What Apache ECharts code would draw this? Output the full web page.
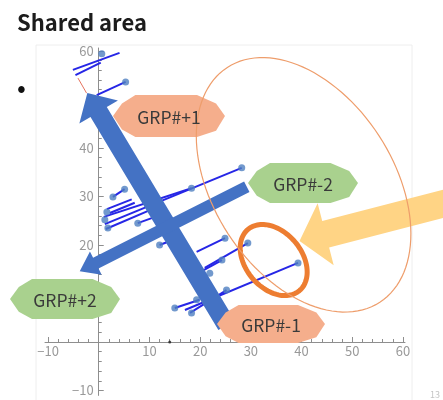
<!DOCTYPE html>
<html><head><meta charset="utf-8">
<script src="https://cdn.jsdelivr.net/npm/echarts@6/dist/echarts.min.js"></script>
<style>html,body{margin:0;padding:0;background:#fff;}#c{width:443px;height:400px;}</style>
</head><body><div id="c"></div>
<script>
// ---- data ----
const majorTicks = [-10, 0, 10, 20, 30, 40, 50, 60];
const minorTicks = [-8, -6, -4, -2, 2, 4, 6, 8, 12, 14, 16, 18, 22, 24, 26, 28, 32, 34, 36, 38, 42, 44, 46, 48, 52, 54, 56, 58];
const xLabelValues = [-10, 10, 20, 30, 40, 50, 60];
const yLabelValues = [-10, 10, 20, 30, 40, 60];
// blue segments: [x1, y1, x2, y2]
const segments = [
  [-5.1, 56.1, 4.1, 59.6],
  [-4.6, 55.0, 0.4, 57.6],
  [-0.4, 50.9, 5.3, 53.6],
  [2.8, 29.9, 5.1, 31.5],
  [1.2, 24.3, 28.2, 35.9],
  [1.0, 25.8, 18.3, 31.7],
  [1.4, 23.3, 10.1, 27.2],
  [2.2, 26.6, 7.1, 28.7],
  [1.6, 27.4, 6.5, 29.4],
  [7.7, 24.5, 12.5, 26.3],
  [12.0, 20.0, 16.0, 21.6],
  [19.3, 18.6, 24.9, 21.4],
  [20.9, 15.3, 29.4, 20.4],
  [17.0, 6.6, 39.3, 16.3],
  [15.0, 7.0, 19.9, 8.7],
  [18.0, 6.0, 25.2, 10.7],
  [18.9, 13.8, 24.3, 16.9]
];
const dots = [
  [0.6, 59.4], [5.3, 53.6], [2.8, 29.9], [5.1, 31.5], [1.6, 26.8], [1.2, 25.2], [1.8, 23.5],
  [7.7, 24.5], [18.3, 31.7], [28.2, 35.9], [12.0, 20.0], [24.9, 21.4], [29.4, 20.4],
  [24.3, 16.9], [21.9, 14.2], [39.3, 16.3], [15.0, 7.0], [18.3, 6.0], [25.2, 10.7], [19.3, 8.7]
];
const redSegment = [[-4.1, 54.4], [-2.4, 51.3]];
const axisMark = [[14, 0]];

// axis extents
const xMin = -10.6, xMax = 60.4, yMin = -11, yMax = 60.6;
const G = {left: 45, right: 38, top: 48, bottom: 4.6};
const W = 443, H = 400;
const gw = W - G.left - G.right, gh = H - G.top - G.bottom;
// place each axis on the other's zero via offset
const xOffset = -(gh * (0 - yMin) / (yMax - yMin));
const yOffset = -(gw * (0 - xMin) / (xMax - xMin));

const chart = echarts.init(document.getElementById('c'), null, {renderer: 'canvas'});
const gray = '#8e8e8e';
const fmt = v => (v < 0 ? '\u2212' + Math.abs(v) : String(v));

const series = segments.map(s => ({
  type: 'line', data: [[s[0], s[1]], [s[2], s[3]]], symbol: 'none',
  lineStyle: {color: '#2626e6', width: 2}, z: 3, silent: true
}));
series.push({type: 'scatter', data: dots, symbolSize: 7, itemStyle: {color: '#4f80c0'}, z: 4, silent: true});
series.push({type: 'line', data: redSegment, symbol: 'none', lineStyle: {color: '#e5735e', width: 1}, z: 3, silent: true});
series.push({type: 'scatter', data: axisMark, symbolSize: 3, itemStyle: {color: '#222'}, z: 4, silent: true});

const axisBase = (isX, major) => ({
  type: 'value', min: isX ? xMin : yMin, max: isX ? xMax : yMax,
  position: isX ? 'bottom' : 'left',
  offset: isX ? xOffset : yOffset,
  axisLine: {show: major, onZero: false, lineStyle: {color: gray, width: 1}},
  axisTick: {show: true, inside: true, length: major ? 5 : 3, customValues: major ? majorTicks : minorTicks, lineStyle: {color: gray}},
  axisLabel: major ? {customValues: isX ? xLabelValues : yLabelValues, formatter: fmt, color: '#999999', fontSize: 13,
    fontFamily: 'Noto Sans CJK JP', margin: isX ? 3 : 5} : {show: false},
  splitLine: {show: false}
});

chart.setOption({
  animation: false,
  title: {text: 'Shared area', left: 17, top: 12, padding: 0,
    textStyle: {fontSize: 22, fontWeight: 'bold', color: '#1c1c1c', fontFamily: 'Noto Sans CJK JP'}},
  grid: {left: G.left, right: G.right, top: G.top, bottom: G.bottom, outerBoundsMode: 'none'},
  xAxis: [axisBase(true, true), axisBase(true, false)],
  yAxis: [axisBase(false, true), axisBase(false, false)],
  series: series
});

// ---- annotations (anchored in data coordinates, sizes in pixels) ----
const arrows = [
  {tail: [25.2, 3.5], tip: [-2.25, 51.3], shaft: 9.5, head: 22.5, headLen: 22, color: '#4472c4', z: 10},
  {tail: [29.2, 32.0], tip: [-3.75, 14.6], shaft: 6, head: 13, headLen: 18, color: '#4472c4', z: 10},
  {tail: [71, 29.3], tip: [39.6, 20.8], shaft: 13.7, head: 32, headLen: 27, color: '#ffd485', z: 12}
];
const ellipses = [
  {c: [40.4, 32.4], rx: 140, ry: 90, angle: 57, color: '#ee9d6b', width: 1.2, z: 21},
  {c: [34.5, 16.9], rx: 40, ry: 28, angle: 50, color: '#ed7d31', width: 5, z: 13}
];
const tags = [
  {text: 'GRP#+1', cx: 169, cy: 116, w: 112, h: 42, fill: '#f5ae8c'},
  {text: 'GRP#-2', cx: 303, cy: 183, w: 110, h: 40, fill: '#a9d18e'},
  {text: 'GRP#+2', cx: 65, cy: 299, w: 110, h: 40, fill: '#a9d18e'},
  {text: 'GRP#-1', cx: 271, cy: 324, w: 108, h: 38, fill: '#f5ae8c'}
];

const px = p => chart.convertToPixel({gridIndex: 0}, p);
const graphics = [];
graphics.push({type: 'rect', shape: {x: 36, y: 45, width: 376, height: 360}, style: {fill: 'none', stroke: '#eeeeee', lineWidth: 1}, z: 0, silent: true});

arrows.forEach(a => {
  const P0 = px(a.tail), P1 = px(a.tip);
  const dx = P1[0] - P0[0], dy = P1[1] - P0[1], L = Math.hypot(dx, dy);
  const u = [dx / L, dy / L], n = [-u[1], u[0]];
  const B = [P1[0] - u[0] * a.headLen, P1[1] - u[1] * a.headLen];
  const pt = (P, k) => [P[0] + n[0] * k, P[1] + n[1] * k];
  graphics.push({type: 'polygon', shape: {points: [pt(P0, a.shaft), pt(B, a.shaft), pt(B, a.head), P1, pt(B, -a.head), pt(B, -a.shaft), pt(P0, -a.shaft)]},
    style: {fill: a.color}, z: a.z, silent: true});
});

ellipses.forEach(e => {
  const C = px(e.c), th = e.angle * Math.PI / 180, pts = [];
  for (let i = 0; i < 120; i++) {
    const t = i / 120 * 2 * Math.PI;
    pts.push([C[0] + e.rx * Math.cos(t) * Math.cos(th) - e.ry * Math.sin(t) * Math.sin(th),
              C[1] + e.rx * Math.cos(t) * Math.sin(th) + e.ry * Math.sin(t) * Math.cos(th)]);
  }
  graphics.push({type: 'polygon', shape: {points: pts}, style: {fill: 'none', stroke: e.color, lineWidth: e.width}, z: e.z, silent: true});
});

const octo = [[-0.5, 0], [-0.42, -0.3], [-0.3, -0.5], [0.25, -0.5], [0.42, -0.3], [0.5, 0], [0.42, 0.35], [0.25, 0.5], [-0.3, 0.5], [-0.42, 0.32]];
tags.forEach(t => {
  graphics.push({type: 'polygon', shape: {points: octo.map(q => [t.cx + q[0] * t.w, t.cy + q[1] * t.h])}, style: {fill: t.fill}, z: 20, silent: true});
  graphics.push({type: 'text', x: t.cx, y: t.cy + 1, style: {text: t.text, fill: '#3a3a3a', font: '17.5px "Noto Sans CJK JP"', align: 'center', verticalAlign: 'middle'}, z: 22, silent: true});
});

graphics.push({type: 'text', x: 17, y: 87, style: {text: '\u2022', fill: '#111', font: '26px "Noto Sans CJK JP"', align: 'left', verticalAlign: 'middle'}, z: 22});
graphics.push({type: 'text', x: 430, y: 395, style: {text: '13', fill: '#c4c4c4', font: '9px "Noto Sans CJK JP"', align: 'left', verticalAlign: 'middle'}, z: 22});

chart.setOption({graphic: graphics});
</script>
</body></html>
